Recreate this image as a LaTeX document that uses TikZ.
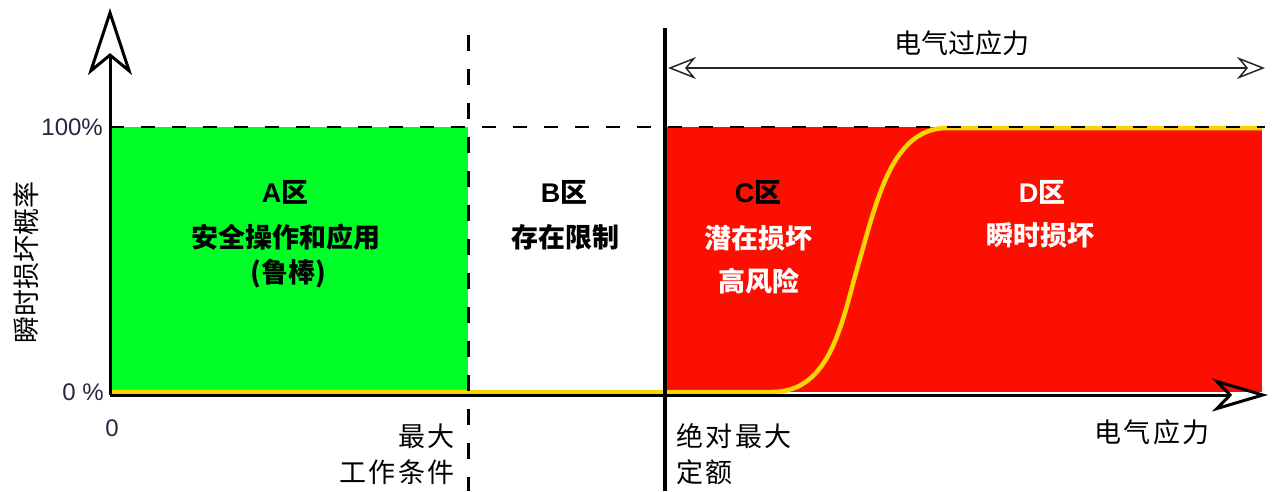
\documentclass[tikz,border=0pt]{standalone}
\usepackage{fontspec}
\setmainfont{Noto Sans CJK SC}
\newfontfamily\lat{Liberation Sans}
\newfontfamily\wide[LetterSpace=9]{Noto Sans CJK SC}
\usetikzlibrary{arrows.meta}
\definecolor{zgreen}{RGB}{0,255,40}
\definecolor{zred}{RGB}{252,14,0}
\definecolor{zyellow}{RGB}{245,214,0}
\definecolor{ztick}{RGB}{35,40,60}
\tikzset{
  axisline/.style={line width=3pt, black},
  bigtip/.style={-{Stealth[open, length=67pt, width=44pt, inset=18pt, line width=3pt]}},
  xtip/.style={-{Stealth[open, length=56pt, width=33pt, inset=16pt, line width=3pt]}},
  limdash/.style={line width=3pt, dash pattern=on 16pt off 18pt},
  topdash/.style={line width=2.5pt, dash pattern=on 14pt off 17pt},
  curve/.style={line width=4.5pt, zyellow},
  lbl/.style={font=\wide\fontsize{27}{31}\selectfont, inner sep=0pt},
  toplbl/.style={font=\fontsize{27}{31}\selectfont, inner sep=0pt},
  zone/.style={font=\fontsize{27}{31}\selectfont\bfseries, inner sep=0pt},
  tick/.style={font=\lat\fontsize{24}{28}\selectfont, text=ztick, inner sep=0pt},
  span/.style={line width=2pt, black!85, {Stealth[open, length=28pt, width=22pt, inset=9pt, line width=1.5pt]}-{Stealth[open, length=28pt, width=22pt, inset=9pt, line width=1.5pt]}}
}
\begin{document}
\begin{tikzpicture}[x=1pt, y=-1pt]
\useasboundingbox (0,0) rectangle (1275,491);
% coordinates
\coordinate (O) at (110,395);
\coordinate (Ytop) at (110,8);
\coordinate (Xend) at (1268,395);
\coordinate (H0) at (110,127);
\coordinate (H1) at (1265,127);
\coordinate (Mtop) at (468,35);
\coordinate (Mbot) at (468,491);
\coordinate (Atop) at (665,28);
\coordinate (Abot) at (665,491);
\coordinate (S0) at (668,68);
\coordinate (S1) at (1265,68);
% regions
\fill[zgreen] (110,127) rectangle (468,395);
\fill[zred] (665,127) rectangle (1262,392);
% yellow probability curve
\draw[curve] (112,392) -- (772,392)
  .. controls (832,392) and (842,320) .. (859,262)
  .. controls (877,200) and (892,128) .. (947,128) -- (1262,128);
% dashed lines
\draw[topdash] (H0) -- (H1);
\draw[limdash] (Mtop) -- (Mbot);
% axes
\draw[axisline, bigtip] (O) -- (Ytop);
\draw[axisline, xtip] (O) -- (Xend);
% absolute max line
\draw[line width=4.5pt] (Atop) -- (Abot);
% EOS span arrow
\draw[span] (S0) -- (S1);
\node[toplbl] (eos) at (962,43) {电气过应力};
% ticks
\node[tick, anchor=east] (p100) at (103,127) {100\%};
\node[tick, anchor=east] (p0) at (104,392) {0 \%};
\node[tick] (x0) at (112,428) {0};
% y label
\node[toplbl, rotate=90] (ylab) at (26,262) {瞬时损坏概率};
% x labels
\node[lbl, anchor=east] (mx1) at (455,436) {最大};
\node[lbl, anchor=east] (mx2) at (455,472) {工作条件};
\node[lbl, anchor=west] (ab1) at (676,436) {绝对最大};
\node[lbl, anchor=west] (ab2) at (676,472) {定额};
\node[lbl, anchor=west] (xlab) at (1094,432) {电气应力};
% zone A
\node[zone] (za) at (285,192) {{\lat A}区};
\node[zone] (za1) at (286,237) {安全操作和应用};
\node[zone] (za2) at (288,274) {(鲁棒)};
% zone B
\node[zone] (zb) at (564,192) {{\lat B}区};
\node[zone] (zb1) at (565,237) {存在限制};
% zone C
\node[zone] (zc) at (758,192) {{\lat C}区};
\node[zone, text=white] (zc1) at (758,238) {潜在损坏};
\node[zone, text=white] (zc2) at (759,281) {高风险};
% zone D
\node[zone, text=white] (zd) at (1042,192) {{\lat D}区};
\node[zone, text=white] (zd1) at (1040,235) {瞬时损坏};
\end{tikzpicture}
\end{document}
